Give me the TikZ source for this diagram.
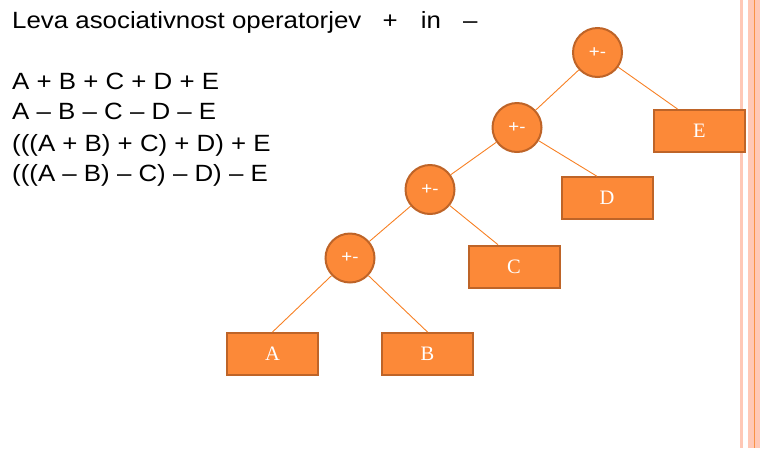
\documentclass[tikz,border=0pt]{standalone}
\usepackage{fontspec}
\setmainfont{Liberation Serif}
\newfontfamily\slidefont[FakeStretch=1.1]{Liberation Sans}
\definecolor{nodeorange}{RGB}{252,137,56}
\definecolor{nodeedge}{RGB}{190,100,40}
\definecolor{lineorange}{RGB}{247,128,36}
\definecolor{stripe}{RGB}{255,200,182}
\begin{document}
\begin{tikzpicture}[x=1pt,y=-1pt,
        op/.style={circle,draw=nodeedge,line width=2pt,fill=nodeorange,minimum size=49pt,inner sep=0pt,text=white,font=\slidefont\fontsize{17}{17}\selectfont},
        leaf/.style={rectangle,draw=nodeedge,line width=2pt,fill=nodeorange,minimum width=91pt,minimum height=42pt,inner sep=0pt,text=white,font=\fontsize{20.5}{20.5}\selectfont},
        txt/.style={anchor=base west,inner sep=0pt,font=\slidefont\fontsize{23.5}{26}\selectfont},
        link/.style={draw=lineorange,line width=0.9pt}]
        \useasboundingbox ( 0, 0 ) rectangle ( 760, 448 );

        % rob
        \fill[stripe] ( 740, 0 ) rectangle ( 743, 448 );
        \fill[stripe] ( 748, 0 ) rectangle ( 760, 448 );
        \draw[lineorange!85, line width=1pt] ( 754.5, 0 ) -- ( 754.5, 448 );

        % besedilo
        \node[txt] (naslov) at ( 12, 28 ) {Leva asociativnost operatorjev\hspace{14pt} +\hspace{16pt} in\hspace{15pt} –};
        \node[txt] (vrsta1) at ( 12, 89 ) {A + B + C + D + E};
        \node[txt] (vrsta2) at ( 12, 119 ) {A – B – C – D – E};
        \node[txt] (vrsta3) at ( 12, 151 ) {(((A + B) + C) + D) + E};
        \node[txt] (vrsta4) at ( 12, 181 ) {(((A – B) – C) – D) – E};

        % operatorji
        \node[op] (op1) at ( 597.5, 52.5 ) {+-};
        \node[op] (op2) at ( 517, 127.5 ) {+-};
        \node[op] (op3) at ( 430, 189.5 ) {+-};
        \node[op] (op4) at ( 350, 258 ) {+-};

        % listi
        \node[leaf] (A) at ( 272.5, 354 ) {A};
        \node[leaf] (B) at ( 427.5, 354 ) {B};
        \node[leaf] (C) at ( 514, 266.7 ) {C};
        \node[leaf] (D) at ( 607, 198.3 ) {D};
        \node[leaf] (E) at ( 699.5, 131 ) {E};

        % povezave
        \draw[link] (op1) -- (op2);
        \draw[link] (op1) -- ([xshift=-22pt]E.north);
        \draw[link] (op2) -- (op3);
        \draw[link] (op2) -- ([xshift=-10pt]D.north);
        \draw[link] (op3) -- (op4);
        \draw[link] (op3) -- ([xshift=-16pt]C.north);
        \draw[link] (op4) -- (A.north);
        \draw[link] (op4) -- (B.north);
    \end{tikzpicture}
\end{document}
